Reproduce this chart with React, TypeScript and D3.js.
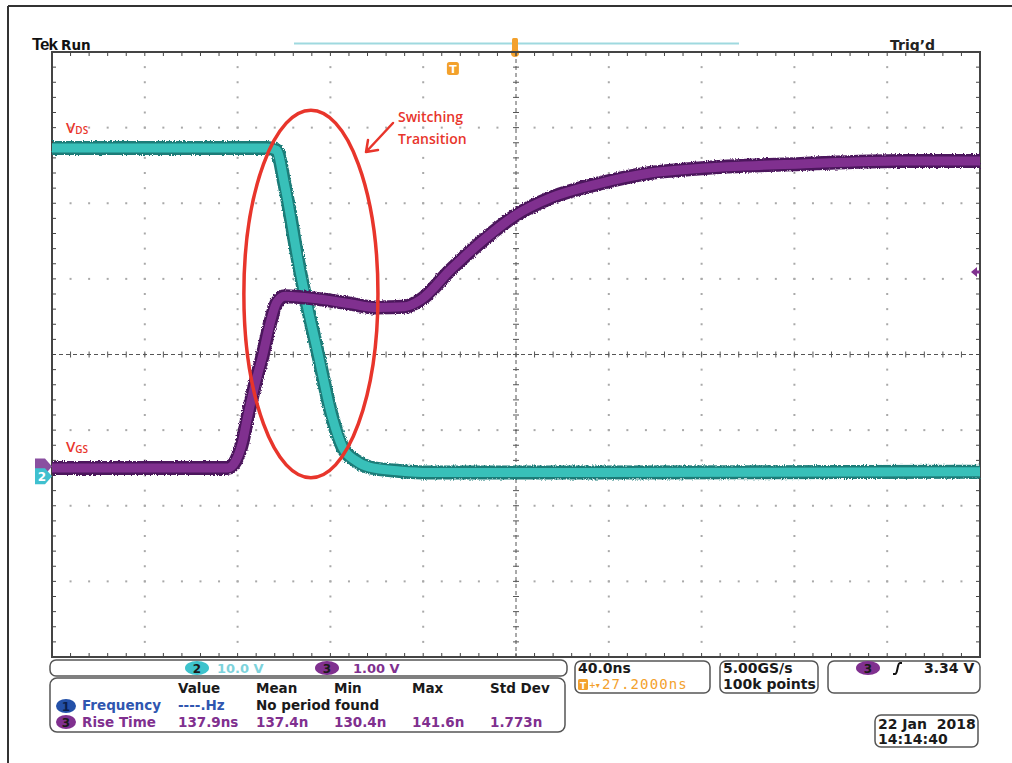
import React from 'react';
import * as d3 from 'd3';

// ---- acquisition settings ----
const NS_PER_DIV = 40;
const H_DIVS = 10;
const V_DIVS = 8;
const H_POSITION_NS = 27.2; // screen centre is 27.2 ns after trigger

// channel 2 : VDS (10 V/div)
const ch2Time = [-172.8, -80, -76, -72.5, -66, -58, -52, -47.5, -42, -36, -23, -10, 60, 227.2];
const ch2Volts = [43.0, 43.0, 42.7, 38.1, 26.9, 15.6, 7.4, 3.4, 1.7, 0.8, 0.3, 0.1, 0.1, 0.2];
const ch2VoltsPerDiv = 10;
const ch2Offset = -1.57;

// channel 3 : VGS (1 V/div)
const ch3Time = [-172.8, -97, -93.5, -90.5, -88.8, -85.3, -81.9, -78.9, -75.9, -72.4, -57, -44, -33, -21, -14, -1, 13, 27, 42, 63, 85, 106, 150, 193, 227.2];
const ch3Volts = [-0.02, -0.02, 0.08, 0.35, 0.61, 1.08, 1.48, 1.88, 2.17, 2.25, 2.21, 2.15, 2.1, 2.11, 2.2, 2.6, 2.99, 3.32, 3.55, 3.74, 3.88, 3.94, 4.0, 4.04, 4.04];
const ch3VoltsPerDiv = 1;
const ch3Offset = -1.48;

const trigLevelDiv = 1.09;

// readouts
const measHeaders = ['Value', 'Mean', 'Min', 'Max', 'Std Dev'];
const freqRow = ['----.Hz', 'No period found'];
const riseRow = ['137.9ns', '137.4n', '130.4n', '141.6n', '1.773n'];

// annotation ellipse (time ns, divisions)
const ringCenter = [-61.2, 0.8];
const ringRadius = [28.9, 2.43];

const CYAN = '#38c0b9';
const CYAN_DARK = '#1a7c78';
const PURPLE = '#80308f';
const PURPLE_DARK = '#4c165c';
const RED = '#e8352b';
const ORANGE = '#f3a12c';
const PANEL_FONT = 'DejaVu Sans, sans-serif';

const left = 52, right = 980, top = 52, bottom = 657;

const x = d3.scaleLinear()
  .domain([H_POSITION_NS - (H_DIVS / 2) * NS_PER_DIV, H_POSITION_NS + (H_DIVS / 2) * NS_PER_DIV])
  .range([left, right]);
const y = d3.scaleLinear().domain([-V_DIVS / 2, V_DIVS / 2]).range([bottom, top]);
const xDiv = d3.scaleLinear().domain([0, H_DIVS]).range([left, right]);
const yDiv = d3.scaleLinear().domain([0, V_DIVS]).range([bottom, top]);

const ch2 = ch2Time.map((t, i) => [t, ch2Volts[i] / ch2VoltsPerDiv + ch2Offset]);
const ch3 = ch3Time.map((t, i) => [t, ch3Volts[i] / ch3VoltsPerDiv + ch3Offset]);

const line = d3.line<number[]>()
  .x(d => x(d[0]))
  .y(d => y(d[1]))
  .curve(d3.curveMonotoneX);

const Badge = ({ cx, cy, label, fill, rx = 11, color = '#1a1a1a' }: any) => (
  <g>
    <ellipse cx={cx} cy={cy} rx={rx} ry={7} fill={fill} />
    <text x={cx} y={cy + 4.5} textAnchor="middle" fontSize={12} fontWeight="bold" fontFamily={PANEL_FONT} fill={color}>{label}</text>
  </g>
);

const Grid = () => {
  const els: any[] = [];
  const minorX = d3.range(0, H_DIVS * 5 + 1).map(i => i / 5);
  const minorY = d3.range(0, V_DIVS * 5 + 1).map(i => i / 5);
  // dotted graticule
  d3.range(1, H_DIVS).filter(k => k !== H_DIVS / 2).forEach(k => {
    minorY.forEach((m, j) => els.push(<rect key={`vx${k}-${j}`} x={xDiv(k) - 1} y={yDiv(m) - 1} width={2} height={2} fill="#a9a9a9" />));
  });
  d3.range(1, V_DIVS).filter(k => k !== V_DIVS / 2).forEach(k => {
    minorX.forEach((m, j) => els.push(<rect key={`hy${k}-${j}`} x={xDiv(m) - 1} y={yDiv(k) - 1} width={2} height={2} fill="#a9a9a9" />));
  });
  // centre cross
  const cx = xDiv(H_DIVS / 2), cy = yDiv(V_DIVS / 2);
  els.push(<line key="cxl" x1={left} x2={right} y1={cy} y2={cy} stroke="#555" strokeDasharray="4 3" />);
  els.push(<line key="cyl" x1={cx} x2={cx} y1={top} y2={bottom} stroke="#555" strokeDasharray="4 3" />);
  minorX.forEach((m, j) => els.push(<line key={`ct${j}`} x1={xDiv(m)} x2={xDiv(m)} y1={cy - 3} y2={cy + 3} stroke="#555" />));
  minorY.forEach((m, j) => els.push(<line key={`cv${j}`} x1={cx - 3} x2={cx + 3} y1={yDiv(m)} y2={yDiv(m)} stroke="#555" />));
  // frame ticks
  minorX.forEach((m, j) => {
    els.push(<line key={`tt${j}`} x1={xDiv(m)} x2={xDiv(m)} y1={top} y2={top + 4} stroke="#444" />);
    els.push(<line key={`tb${j}`} x1={xDiv(m)} x2={xDiv(m)} y1={bottom} y2={bottom - 4} stroke="#444" />);
  });
  minorY.forEach((m, j) => {
    els.push(<line key={`tl${j}`} x1={left} x2={left + 4} y1={yDiv(m)} y2={yDiv(m)} stroke="#444" />);
    els.push(<line key={`tr${j}`} x1={right} x2={right - 4} y1={yDiv(m)} y2={yDiv(m)} stroke="#444" />);
  });
  els.push(<rect key="frame" x={left} y={top} width={right - left} height={bottom - top} fill="none" stroke="#444" strokeWidth={2} />);
  return <g>{els}</g>;
};

const Trace = ({ data, color, dark }: any) => (
  <g>
    <path d={line(data) as string} fill="none" stroke={dark} strokeWidth={14} strokeLinejoin="round" filter="url(#fuzz)" />
    <path d={line(data) as string} fill="none" stroke={color} strokeWidth={9} strokeLinejoin="round" />
  </g>
);

const ChannelMarker = ({ yy, fill, label }: any) => (
  <g>
    <path d={`M35,${yy - 8} L45,${yy - 8} L52,${yy} L45,${yy + 8} L35,${yy + 8} Z`} fill={fill} />
    {label && <text x={42} y={yy + 5} textAnchor="middle" fontSize={12} fontWeight="bold" fontFamily={PANEL_FONT} fill="#fff">{label}</text>}
  </g>
);

export default function App() {
  const colX = d3.scalePoint().domain(measHeaders).range([178, 490]);
  const trigX = x(0);
  const ringCx = x(ringCenter[0]), ringCy = y(ringCenter[1]);
  const ringRx = x(ringCenter[0] + ringRadius[0]) - ringCx;
  const ringRy = ringCy - y(ringCenter[1] + ringRadius[1]);
  const ch2Y = y(ch2Offset), ch3Y = y(ch3Offset);
  const trigY = y(trigLevelDiv);
  const panel = { fill: 'none', stroke: '#555', strokeWidth: 1.5 };

  return (
    <svg width={1012} height={763} style={{ position: 'absolute', left: 0, top: 0, background: '#fff' }}>
      <defs>
        <filter id="fuzz" x="-5%" y="-5%" width="110%" height="110%">
          <feTurbulence type="fractalNoise" baseFrequency="0.9 0.6" numOctaves={1} seed={4} />
          <feDisplacementMap in="SourceGraphic" scale={4} xChannelSelector="R" yChannelSelector="G" />
        </filter>
      </defs>
      <rect width={1012} height={763} fill="#fff" />
      <line x1={8} x2={1012} y1={6} y2={6} stroke="#333" strokeWidth={2} />
      <line x1={8} x2={8} y1={6} y2={763} stroke="#333" strokeWidth={2} />

      {/* header */}
      <text x={32} y={50} fontFamily="Liberation Sans, Arial, sans-serif" fontWeight="bold" fontSize={17} letterSpacing={-1} fill="#111">Tek</text>
      <text x={61} y={50} fontFamily={PANEL_FONT} fontWeight="bold" fontSize={13.5} fill="#111">Run</text>
      <text x={890} y={50} fontFamily={PANEL_FONT} fontWeight="bold" fontSize={14} fill="#222">Trig’d</text>
      <line x1={294} x2={739} y1={43.5} y2={43.5} stroke="#9fd9df" strokeWidth={2} />
      <rect x={512} y={38} width={6} height={16} rx={1.5} fill={ORANGE} />
      <circle cx={515} cy={53} r={4} fill={ORANGE} />

      <Grid />

      {/* trigger-point marker */}
      <rect x={trigX - 6} y={62} width={12} height={13} rx={2.5} fill={ORANGE} />
      <text x={trigX} y={73} textAnchor="middle" fontFamily={PANEL_FONT} fontWeight="bold" fontSize={11} fill="#fff">T</text>

      <Trace data={ch2} color={CYAN} dark={CYAN_DARK} />
      <Trace data={ch3} color={PURPLE} dark={PURPLE_DARK} />

      {/* channel ground markers */}
      <ChannelMarker yy={ch3Y} fill="#8a4fa0" />
      <ChannelMarker yy={ch2Y + 3} fill="#3fc0cf" label="2" />
      <path d={`M971,${trigY} L977,${trigY - 5} L977,${trigY + 5} Z M976,${trigY - 1.5} h4 v3 h-4 Z`} fill={PURPLE} />

      {/* annotation */}
      <ellipse cx={ringCx} cy={ringCy} rx={ringRx} ry={ringRy} fill="none" stroke={RED} strokeWidth={3.5} />
      <path d="M393,123 L366,152 M366,152 L368,140 M366,152 L378,150" fill="none" stroke={RED} strokeWidth={2.5} strokeLinecap="round" />
      <g fontFamily="Open Sans, Lato, sans-serif" fontWeight={600} fontSize={14} fill={RED}>
        <text x={398} y={122}>Switching</text>
        <text x={398} y={144}>Transition</text>
        <text x={66} y={133} fontSize={15}>V<tspan fontSize={10} dy={1}>DS</tspan></text>
        <text x={66} y={452} fontSize={15}>V<tspan fontSize={10} dy={1}>GS</tspan></text>
      </g>

      {/* channel scale panel */}
      <rect x={50} y={660} width={517} height={16} rx={6} {...panel} />
      <Badge cx={197} cy={668} label="2" fill="#3ec3cc" rx={12} />
      <text x={217} y={673} fontFamily={PANEL_FONT} fontWeight="bold" fontSize={13} fill="#7dd3dc">10.0 V</text>
      <Badge cx={327} cy={668} label="3" fill={PURPLE} rx={12} />
      <text x={353} y={673} fontFamily={PANEL_FONT} fontWeight="bold" fontSize={13} fill={PURPLE}>1.00 V</text>

      {/* measurement panel */}
      <rect x={50} y={678} width={515} height={54} rx={7} {...panel} />
      <g fontFamily={PANEL_FONT} fontWeight="bold" fontSize={13.5}>
        {measHeaders.map(h => <text key={h} x={colX(h)} y={693} fill="#1a1a1a">{h}</text>)}
        <Badge cx={66} cy={706} label="1" fill="#2350a8" rx={10} color="#0b1f4d" />
        <text x={82} y={710} fill="#2f56b0">Frequency</text>
        <text x={colX('Value')} y={710} fill="#2f56b0">{freqRow[0]}</text>
        <text x={colX('Mean')} y={710} fill="#1a1a1a">{freqRow[1]}</text>
        <Badge cx={66} cy={722} label="3" fill={PURPLE} rx={10} />
        <text x={82} y={727} fill={PURPLE}>Rise Time</text>
        {riseRow.map((v, i) => <text key={i} x={colX(measHeaders[i])} y={727} fill={PURPLE}>{v}</text>)}
      </g>

      {/* timebase / sampling / trigger panels */}
      <g fontFamily={PANEL_FONT} fontWeight="bold" fontSize={14}>
        <rect x={575} y={661} width={135} height={32} rx={6} {...panel} />
        <text x={578} y={673} fill="#1a1a1a">40.0ns</text>
        <rect x={578} y={679} width={10} height={11} rx={1.5} fill={ORANGE} />
        <text x={583} y={688.5} textAnchor="middle" fontSize={9} fill="#fff">T</text>
        <text x={589} y={688} fontSize={8} fill={ORANGE}>+▾</text>
        <text x={602} y={689} fontFamily="DejaVu Sans Mono, monospace" fontWeight="normal" fontSize={14} letterSpacing={1.1} fill={ORANGE}>27.2000ns</text>

        <rect x={720} y={661} width={98} height={32} rx={6} {...panel} />
        <text x={723} y={673} fill="#1a1a1a">5.00GS/s</text>
        <text x={723} y={689} fill="#1a1a1a">100k points</text>

        <rect x={828} y={661} width={152} height={32} rx={6} {...panel} />
        <Badge cx={868} cy={668} label="3" fill={PURPLE} rx={12} />
        <path d="M893,674 L895,674 C898,674 897,663 900,663 L902,663" fill="none" stroke="#111" strokeWidth={2} />
        <text x={924} y={673} fill="#1a1a1a">3.34 V</text>

        <rect x={875} y={715} width={103} height={32} rx={6} {...panel} />
        <text x={878} y={729} fill="#1a1a1a" style={{ whiteSpace: 'pre' }}>22 Jan  2018</text>
        <text x={878} y={744} fill="#1a1a1a">14:14:40</text>
      </g>
    </svg>
  );
}
